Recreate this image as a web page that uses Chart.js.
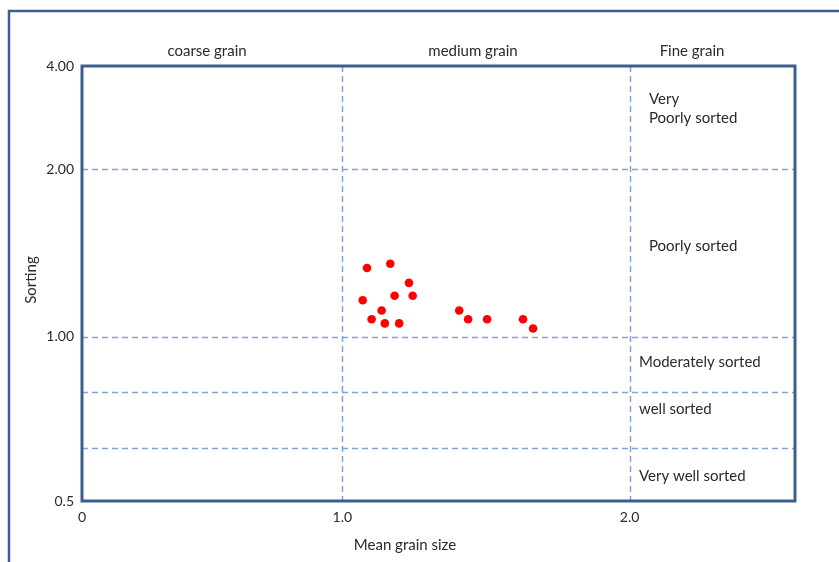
<!DOCTYPE html>
<html>
<head>
<meta charset="utf-8">
<script src="https://cdn.jsdelivr.net/npm/chart.js@4.4.1/dist/chart.umd.min.js"></script>
<style>
  html, body { margin: 0; padding: 0; background: #ffffff; }
  #wrap { width: 839px; height: 562px; position: relative; }
</style>
</head>
<body>
<div id="wrap"><canvas id="c" width="839" height="562"></canvas></div>
<script>
// ---- Data ----
const meanGrainSize = [1.086, 1.167, 1.071, 1.182, 1.232, 1.245, 1.137, 1.102, 1.148, 1.198, 1.407, 1.438, 1.504, 1.629, 1.664];
const sorting       = [1.328, 1.352, 1.162, 1.184, 1.249, 1.184, 1.114, 1.074, 1.056, 1.056, 1.114, 1.074, 1.074, 1.074, 1.034];
const xTicks = [0, 1.0, 2.0];
const xTickLabels = ['0', '1.0', '2.0'];
const yTicks = [0.5, 1, 2, 4];
const yTickLabels = ['0.5', '1.00', '2.00', '4.00'];
const grainClasses = ['coarse grain', 'medium grain', 'Fine grain'];
const sortingClasses = ['Very\nPoorly sorted', 'Poorly sorted', 'Moderately sorted', 'well sorted', 'Very well sorted'];
const sortingBoundaries = [2, 1, 0.79, 0.625];
const grainBoundaries = [1, 2];

// ---- Piecewise scale (the original axes are hand-spaced) ----
class PiecewiseScale extends Chart.LinearScale {
  _frac(v) {
    const a = this.options.anchors, lg = this.options.logInterp;
    let i = 0;
    while (i < a.length - 2 && v > a[i + 1][0]) i++;
    const [v0, f0] = a[i], [v1, f1] = a[i + 1];
    const t = lg ? (Math.log(v) - Math.log(v0)) / (Math.log(v1) - Math.log(v0)) : (v - v0) / (v1 - v0);
    return f0 + t * (f1 - f0);
  }
  getPixelForValue(v) { return this.getPixelForDecimal(this._frac(v)); }
  getValueForPixel(p) {
    const d = this.getDecimalForPixel(p);
    const a = this.options.anchors, lg = this.options.logInterp;
    let i = 0;
    while (i < a.length - 2 && d > a[i + 1][1]) i++;
    const [v0, f0] = a[i], [v1, f1] = a[i + 1];
    const t = (d - f0) / (f1 - f0);
    return lg ? Math.exp(Math.log(v0) + t * (Math.log(v1) - Math.log(v0))) : v0 + t * (v1 - v0);
  }
}
PiecewiseScale.id = 'piecewise';
PiecewiseScale.defaults = Chart.LinearScale.defaults;
Chart.register(PiecewiseScale);

const FONT = 'Lato, "Open Sans", sans-serif';
const TEXT = '#2a2a2a';
const FRAME = '#3D5F8E';
const DASH = '#7FA4D4';

const decor = {
  id: 'decor',
  beforeDatasetsDraw(chart) {
    const { ctx, chartArea: ca, scales } = chart;
    ctx.save();
    ctx.strokeStyle = DASH; ctx.lineWidth = 1.5; ctx.setLineDash([6, 4]);
    sortingBoundaries.forEach(v => {
      const y = Math.round(scales.y.getPixelForValue(v)) + 0.5;
      ctx.beginPath(); ctx.moveTo(ca.left, y); ctx.lineTo(ca.right, y); ctx.stroke();
    });
    grainBoundaries.forEach(v => {
      const x = Math.round(scales.x.getPixelForValue(v)) + 0.5;
      ctx.beginPath(); ctx.moveTo(x, ca.top); ctx.lineTo(x, ca.bottom); ctx.stroke();
    });
    ctx.setLineDash([]);
    // plot frame
    ctx.strokeStyle = FRAME; ctx.lineWidth = 3;
    ctx.strokeRect(ca.left, ca.top, ca.right - ca.left, ca.bottom - ca.top);
    // outer frame
    ctx.lineWidth = 2.5;
    ctx.strokeRect(9, 11, 900, 700);
    ctx.restore();
  },
  afterDraw(chart) {
    const { ctx } = chart;
    ctx.save();
    ctx.fillStyle = TEXT;
    ctx.font = '15px ' + FONT;
    ctx.textBaseline = 'middle';
    ctx.textAlign = 'center';
    const gx = [207, 473, 692];
    grainClasses.forEach((t, i) => ctx.fillText(t, gx[i], 51));
    ctx.textAlign = 'left';
    const sPos = [[649, 99], [649, 246], [639, 362], [639, 409], [639, 476]];
    sortingClasses.forEach((t, i) => {
      t.split('\n').forEach((line, j) => ctx.fillText(line, sPos[i][0], sPos[i][1] + j * 19));
    });
    ctx.textAlign = 'center';
    ctx.fillText('Mean grain size', 405, 545);
    ctx.translate(31, 280);
    ctx.rotate(-Math.PI / 2);
    ctx.fillText('Sorting', 0, 0);
    ctx.restore();
  }
};

new Chart(document.getElementById('c'), {
  type: 'scatter',
  data: {
    datasets: [{
      data: meanGrainSize.map((x, i) => ({ x, y: sorting[i] })),
      backgroundColor: '#FF0000',
      borderColor: '#FF0000',
      pointRadius: 4.3,
      pointBorderWidth: 0
    }]
  },
  options: {
    responsive: false,
    animation: false,
    events: [],
    layout: { padding: { left: 0, right: 44, top: 66, bottom: 0 } },
    plugins: { legend: { display: false }, tooltip: { enabled: false } },
    scales: {
      x: {
        type: 'piecewise',
        min: 0, max: 2.574,
        anchors: [[0, 0], [1, 0.3651], [2, 0.768], [2.574, 1]],
        logInterp: false,
        afterBuildTicks: s => { s.ticks = xTicks.map(v => ({ value: v })); },
        afterFit: s => { s.height = 61; },
        ticks: {
          autoSkip: false, maxRotation: 0, padding: 8,
          color: TEXT, font: { family: FONT, size: 14 },
          callback: (v, i) => xTickLabels[i]
        },
        grid: { display: false, drawTicks: false },
        border: { display: false }
      },
      y: {
        type: 'piecewise',
        min: 0.5, max: 4,
        anchors: [[0.5, 0], [1, 0.378], [2, 0.763], [4, 1]],
        logInterp: true,
        afterBuildTicks: s => { s.ticks = yTicks.map(v => ({ value: v })); },
        afterFit: s => { s.width = 82; },
        ticks: {
          autoSkip: false, padding: 8,
          color: TEXT, font: { family: FONT, size: 14 },
          callback: (v, i) => yTickLabels[i]
        },
        grid: { display: false, drawTicks: false },
        border: { display: false }
      }
    }
  },
  plugins: [decor]
});
</script>
</body>
</html>
